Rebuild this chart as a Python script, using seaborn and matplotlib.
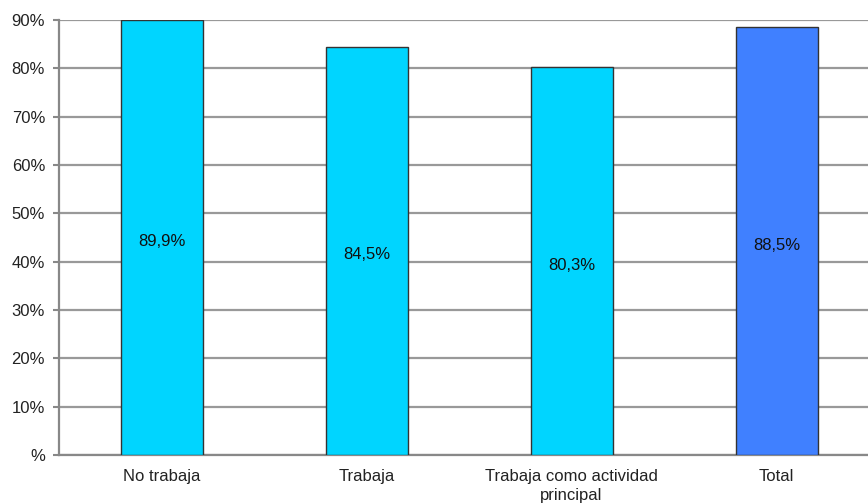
import matplotlib
matplotlib.use("Agg")
import matplotlib.pyplot as plt
import numpy as np
import pandas as pd
import seaborn as sns

categories = ["No trabaja", "Trabaja", "Trabaja como actividad\nprincipal", "Total"]
values = [89.9, 84.5, 80.3, 88.5]
labels = ["89,9%", "84,5%", "80,3%", "88,5%"]
colors = ["#00D5FF", "#00D5FF", "#00D5FF", "#4080FF"]
ytick_values = [0, 10, 20, 30, 40, 50, 60, 70, 80, 90]
ytick_labels = ["%", "10%", "20%", "30%", "40%", "50%", "60%", "70%", "80%", "90%"]

sns.set_style("white")
plt.rcParams["font.family"] = ["Liberation Sans", "DejaVu Sans"]

df = pd.DataFrame({"cat": categories, "val": values})

fig = plt.figure(figsize=(8.68, 5.03), dpi=100)
ax = fig.add_axes([59 / 868, 48 / 503, 820 / 868, 435 / 503])

sns.barplot(data=df, x="cat", y="val", hue="cat", palette=colors, width=0.4,
            saturation=1, edgecolor="#333333", linewidth=1.0, legend=False,
            ax=ax, zorder=3)

for cont, lab in zip(ax.containers, labels):
    ax.bar_label(cont, labels=[lab], label_type="center", fontsize=12,
                 color="#111111", padding=-3)

ax.set_ylim(0, 90)
ax.set_xlim(-0.5, 3.5)
ax.set_yticks(ytick_values)
ax.set_yticklabels(ytick_labels, fontsize=12, color="#222222")
ax.yaxis.grid(True, color="#999999", linewidth=1.6, zorder=0)
ax.set_axisbelow(True)

ax.set_xticks(range(len(categories)))
ax.set_xticklabels(categories, fontsize=12, color="#222222", linespacing=1.35)
ax.set_xticks([0.5, 1.5, 2.5], minor=True)
ax.tick_params(axis="x", which="major", length=0, pad=10)
ax.tick_params(axis="x", which="minor", length=4, width=1.5, color="#888888", direction="out")
ax.tick_params(axis="y", length=4, width=1.5, color="#888888", direction="out", pad=6, left=True)

ax.set_xlabel("")
ax.set_ylabel("")
for side in ["top", "right"]:
    ax.spines[side].set_visible(False)
for side in ["left", "bottom"]:
    ax.spines[side].set_color("#888888")
    ax.spines[side].set_linewidth(1.6)

fig.savefig("out.png", dpi=100)
